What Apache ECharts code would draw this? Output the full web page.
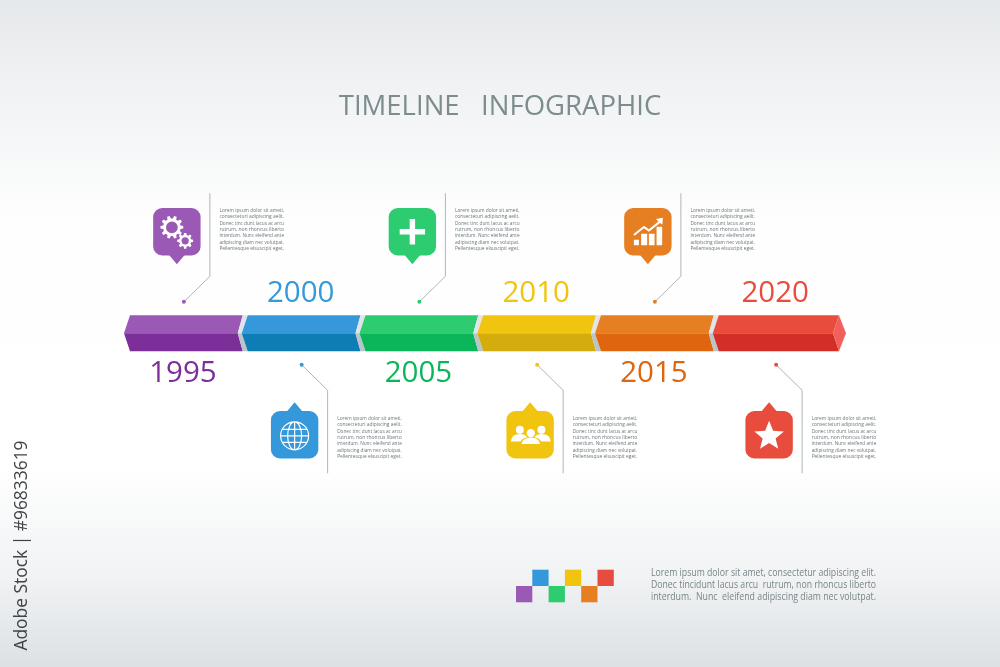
<!DOCTYPE html>
<html>
<head>
<meta charset="utf-8">
<title>Timeline infographic</title>
<script src="https://cdn.jsdelivr.net/npm/echarts@6/dist/echarts.min.js"></script>
<style>
  html, body { margin: 0; padding: 0; background: #fff; }
  #chart { width: 1000px; height: 667px; }
</style>
</head>
<body>
<div id="chart"></div>
<script>
const years = [1995, 2000, 2005, 2010, 2015, 2020];
const spanYears = 5;
const calloutText = [
  "Lorem ipsum dolor sit ameti,",
  "consecteturi adipiscing aelit.",
  "Donec tinc dunt lacus ac arcu",
  "rutrum, non rhoncus liberto",
  "interdum. Nunc eleifend ante",
  "adipiscing diam nec volutpat.",
  "Pellentesque elsuscipit eget."
];
const footnoteText = [
  "Lorem ipsum dolor sit amet, consectetur adipiscing elit.",
  "Donec tincidunt lacus arcu  rutrum, non rhoncus liberto",
  "interdum.  Nunc  eleifend adipiscing diam nec volutpat."
];
const swatchRows = ["low", "high", "low", "high", "low", "high"];

const topColors = ["#9b59b6", "#3498db", "#2ecc71", "#f1c40f", "#e67e22", "#e74c3c"];
const bottomColors = ["#7d2f99", "#0e7db3", "#0bb65a", "#d4ac0d", "#e0650f", "#d32f27"];
const yearColors = ["#7d2f99", "#3498db", "#0bb65a", "#f1c40f", "#e0650f", "#e74c3c"];
const FONT = '"Open Sans", sans-serif';

// canvas text has no justify, so each line gets squeezed to its column width
const measureCtx = document.createElement("canvas").getContext("2d");
function fitScale(text, fontSize, width) {
  measureCtx.font = fontSize + 'px "Open Sans"';
  return width / measureCtx.measureText(text).width;
}

function gearPath(cx, cy, rOut, rIn, hole, teeth) {
  let d = "";
  const step = (Math.PI * 2) / teeth;
  for (let i = 0; i < teeth; i++) {
    const a = i * step;
    [[-0.32, rIn], [-0.18, rOut], [0.18, rOut], [0.32, rIn]].forEach(function (p, k) {
      const t = a + p[0] * step;
      d += (i === 0 && k === 0 ? "M" : "L") + (cx + p[1] * Math.cos(t)).toFixed(2) + " " + (cy + p[1] * Math.sin(t)).toFixed(2) + " ";
    });
  }
  d += "Z ";
  d += `M${cx + hole} ${cy} A${hole} ${hole} 0 1 0 ${cx - hole} ${cy} A${hole} ${hole} 0 1 0 ${cx + hole} ${cy} Z`;
  return d;
}

function starPath(cy, rOut, rIn) {
  let d = "";
  for (let i = 0; i < 10; i++) {
    const r = i % 2 ? rIn : rOut;
    const t = -Math.PI / 2 + (i * Math.PI) / 5;
    d += (i ? "L" : "M") + (r * Math.cos(t)).toFixed(2) + " " + (cy + r * Math.sin(t)).toFixed(2) + " ";
  }
  return d + "Z";
}

function dot(cx, cy, r) {
  return `M${cx - r} ${cy} A${r} ${r} 0 1 1 ${cx + r} ${cy} A${r} ${r} 0 1 1 ${cx - r} ${cy} Z`;
}

// icons are drawn around the centre of their pin
const iconPaths = [
  gearPath(-5, -4.5, 11.5, 8.8, 5.9, 10) + " " + gearPath(8.3, 9, 8, 6, 3.6, 8),
  dot(0, 1, 14) + " M-7 1 A7 14 0 1 1 7 1 A7 14 0 1 1 -7 1 Z M0 -13 L0 15 M-14 1 L14 1 M-12 -5.5 L12 -5.5 M-12 7.5 L12 7.5",
  "M-2.7 -12.7 L2.7 -12.7 L2.7 -2.7 L12.7 -2.7 L12.7 2.7 L2.7 2.7 L2.7 12.7 L-2.7 12.7 L-2.7 2.7 L-12.7 2.7 L-12.7 -2.7 L-2.7 -2.7 Z",
  dot(-10.3, -5, 4) + " " + dot(11.3, -5, 4) + " " + dot(0.7, -1.7, 4.2) +
    " M-19.3 6.7 Q-18.5 -0.7 -10.3 -0.7 Q-5 -0.7 -3 2.5 Q-8 3.5 -9.5 6.7 Z" +
    " M20.7 6.7 Q19.9 -0.7 11.7 -0.7 Q6.4 -0.7 4.4 2.5 Q9.4 3.5 10.9 6.7 Z" +
    " M-8.7 9.3 Q-7.5 2.7 0.7 2.7 Q8.9 2.7 10 9.3 Z",
  "M-14 8 L-9 8 L-9 13.5 L-14 13.5 Z M-6.7 2 L-0.7 2 L-0.7 13.5 L-6.7 13.5 Z M1 2 L6.7 2 L6.7 13.5 L1 13.5 Z M8.7 -5 L14.3 -5 L14.3 13.5 L8.7 13.5 Z " +
    "M-14.5 2.5 L-4 -6 L1 -2.5 L10.5 -10.2 L8 -12.8 L15 -14 L14.5 -7 L12.2 -8.8 L1 0 L-4 -3.5 L-13.3 4 Z",
  starPath(1.5, 15.5, 6.8)
];

function renderSegment(params, api) {
  const i = params.dataIndex;
  const year = api.value(0);
  const [xl, yTop] = api.coord([year, 1]);
  const [xr, yMid] = api.coord([year + spanYears, 0]);
  const yBot = api.coord([year, -1])[1];
  const last = i === years.length - 1;
  const rightTop = last ? xr + 8.5 : xr + 1;
  const rightMid = last ? xr + 2.5 : xr - 4;
  const poly = (points, fill) => ({ type: "polygon", shape: { points }, style: { fill } });
  const children = [
    poly([[xl + 6, yTop], [rightTop, yTop], [rightMid, yMid], [xl, yMid]], topColors[i]),
    poly([[xl, yMid], [rightMid, yMid], [rightTop, yBot], [xl + 6, yBot]], bottomColors[i])
  ];
  if (last) {
    children.push(poly([[rightTop, yTop], [xr + 15.5, yMid], [rightTop, yBot], [rightMid, yMid]], "#f2605c"));
  } else {
    children.push(poly([[xr + 1, yTop], [xr + 6, yTop], [xr, yMid], [xr - 4, yMid]], "#e1e5e7"));
    children.push(poly([[xr - 4, yMid], [xr, yMid], [xr + 6, yBot], [xr + 1, yBot]], "#bac5c9"));
  }
  return { type: "group", children };
}

function renderCallout(params, api) {
  const i = params.dataIndex;
  const color = topColors[i];
  const s = i % 2 === 0 ? -1 : 1; // -1 callout above the bar, 1 below
  const [segMid, yMid] = api.coord([api.value(0) + spanYears / 2, 0]);
  // the red segment has the arrow tip, its callout sits a little further right
  const cx = i === years.length - 1 ? segMid + 3.5 : segMid;
  const x = cx + 1;
  const dotY = yMid + s * 31.5;
  const pinY = yMid + s * 101.5;
  const lineX = x + 26;
  const textTop = s < 0 ? yMid - 123 : yMid + 85;
  const children = [
    {
      type: "polyline",
      shape: { points: [[x, dotY], [lineX, yMid + s * 57], [lineX, yMid + s * 140]] },
      style: { stroke: "#aeb6ba", lineWidth: 1, fill: "none" }
    },
    { type: "circle", shape: { cx: x, cy: dotY, r: 2 }, style: { fill: color } },
    {
      type: "group",
      x: x - 7,
      y: pinY,
      children: [
        { type: "rect", shape: { x: -23.7, y: -23.7, width: 47.4, height: 47.4, r: 9 }, style: { fill: color } },
        { type: "polygon", shape: { points: [[-8, -s * 23], [8, -s * 23], [0, -s * 32.5]] }, style: { fill: color } },
        {
          type: "path",
          shape: { pathData: iconPaths[i] },
          style: i === 1
            ? { fill: "none", stroke: "#fff", lineWidth: 1.2 }
            : { fill: "#fff" }
        }
      ]
    },
    {
      type: "text",
      x: cx,
      y: yMid - s * 39.8,
      style: {
        text: String(years[i]),
        fill: yearColors[i],
        font: '29.5px "Open Sans"',
        textAlign: "center",
        textVerticalAlign: "middle"
      }
    }
  ];
  calloutText.forEach(function (line, k) {
    children.push({
      type: "text",
      x: x + 35.5,
      y: textTop + k * 6.32,
      scaleX: fitScale(line, 5.9, 64.7),
      style: {
        text: line,
        fill: "#6c7679",
        font: '5.9px "Open Sans"',
        textAlign: "left",
        textVerticalAlign: "middle"
      }
    });
  });
  return { type: "group", children };
}

function renderSwatch(params, api) {
  const c = api.coord([api.value(0), api.value(1)]);
  const size = api.size([1, 1]);
  return {
    type: "rect",
    shape: { x: c[0] - size[0] / 2, y: c[1] - size[1] / 2, width: size[0], height: size[1] },
    style: { fill: topColors[params.dataIndex] }
  };
}

const myChart = echarts.init(document.getElementById("chart"));

const option = {
  animation: false,
  backgroundColor: {
    type: "linear", x: 0, y: 0, x2: 0, y2: 1,
    colorStops: [
      { offset: 0, color: "#e6e9eb" },
      { offset: 0.13, color: "#f0f2f3" },
      { offset: 0.33, color: "#fefefe" },
      { offset: 0.7, color: "#ffffff" },
      { offset: 0.86, color: "#f1f3f4" },
      { offset: 1, color: "#dde1e4" }
    ]
  },
  title: {
    text: "TIMELINE   INFOGRAPHIC",
    left: "center",
    top: 88,
    textStyle: { fontFamily: FONT, fontWeight: "normal", fontSize: 27.5, color: "#7d8d8e" }
  },
  grid: [
    { left: 124, width: 706.5, top: 315.3, height: 36 },
    { left: 516, width: 97.8, top: 569.7, height: 32.6 }
  ],
  xAxis: [
    { type: "value", min: years[0], max: years[years.length - 1] + spanYears, show: false },
    { type: "category", gridIndex: 1, data: years.map(String), show: false }
  ],
  yAxis: [
    { type: "value", min: -1, max: 1, show: false },
    { type: "category", gridIndex: 1, data: ["low", "high"], show: false }
  ],
  series: [
    {
      name: "Segments",
      type: "custom",
      silent: true,
      renderItem: renderSegment,
      data: years.map((y) => [y])
    },
    {
      name: "Callouts",
      type: "custom",
      silent: true,
      renderItem: renderCallout,
      data: years.map((y) => [y])
    },
    {
      name: "Swatches",
      type: "custom",
      silent: true,
      xAxisIndex: 1,
      yAxisIndex: 1,
      renderItem: renderSwatch,
      data: years.map((y, i) => [String(y), swatchRows[i]])
    }
  ],
  graphic: footnoteText.map(function (line, k) {
    return {
      type: "text",
      silent: true,
      x: 651,
      y: 573.3 + k * 12.1,
      scaleX: fitScale(line, 10, 225),
      style: {
        text: line,
        fill: "#798589",
        font: '10px "Open Sans"',
        textAlign: "left",
        textVerticalAlign: "middle"
      }
    };
  }).concat([
    {
      type: "text",
      silent: true,
      x: 22,
      y: 545.5,
      rotation: Math.PI / 2,
      style: {
        text: "Adobe Stock | #96833619",
        fill: "#404346",
        font: '17.4px "Open Sans"',
        textAlign: "center",
        textVerticalAlign: "middle"
      }
    }
  ])
};

option && myChart.setOption(option);
</script>
</body>
</html>
